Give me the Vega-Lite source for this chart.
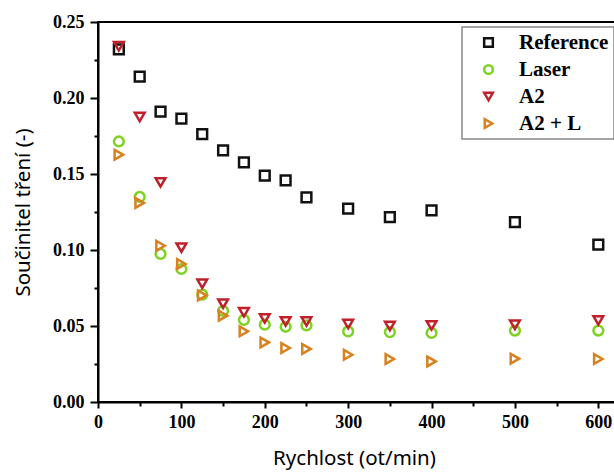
{
  "$schema": "https://vega.github.io/schema/vega-lite/v6.json",
  "width": 517,
  "height": 380,
  "autosize": {"type": "none"},
  "padding": {"left": 98, "top": 22, "right": 0, "bottom": 74},
  "background": "white",
  "config": {
    "view": {"stroke": "black", "strokeWidth": 2},
    "axis": {
      "grid": false,
      "domainColor": "black",
      "domainWidth": 2,
      "tickColor": "black",
      "tickWidth": 2,
      "labelFont": "Liberation Serif",
      "labelFontWeight": "bold",
      "labelFontSize": 18,
      "labelColor": "black",
      "labelFlush": false,
      "titleFont": "Noto Sans",
      "titleFontWeight": "normal",
      "titleFontSize": 20.5,
      "titleColor": "black"
    },
    "legend": {
      "orient": "none",
      "legendX": 364,
      "legendY": 5,
      "strokeColor": "#888888",
      "strokeWidth": 1.5,
      "fillColor": "white",
      "padding": 5,
      "rowPadding": 5,
      "symbolOffset": 11,
      "labelOffset": 20,
      "labelFont": "Liberation Serif",
      "labelFontWeight": "bold",
      "labelFontSize": 21,
      "labelColor": "black",
      "symbolSize": 75,
      "symbolStrokeWidth": 2.5,
      "symbolFillColor": "transparent",
      "labelLimit": 200
    }
  },
  "data": {
    "values": [
      {"rpm": 25, "series": "Reference", "cof": 0.232},
      {"rpm": 50, "series": "Reference", "cof": 0.214},
      {"rpm": 75, "series": "Reference", "cof": 0.191},
      {"rpm": 100, "series": "Reference", "cof": 0.1864},
      {"rpm": 125, "series": "Reference", "cof": 0.1763},
      {"rpm": 150, "series": "Reference", "cof": 0.1655},
      {"rpm": 175, "series": "Reference", "cof": 0.1576},
      {"rpm": 200, "series": "Reference", "cof": 0.149},
      {"rpm": 225, "series": "Reference", "cof": 0.1458},
      {"rpm": 250, "series": "Reference", "cof": 0.1346},
      {"rpm": 300, "series": "Reference", "cof": 0.1272},
      {"rpm": 350, "series": "Reference", "cof": 0.1217},
      {"rpm": 400, "series": "Reference", "cof": 0.126},
      {"rpm": 500, "series": "Reference", "cof": 0.1184},
      {"rpm": 600, "series": "Reference", "cof": 0.1035},
      {"rpm": 25, "series": "Laser", "cof": 0.1714},
      {"rpm": 50, "series": "Laser", "cof": 0.1349},
      {"rpm": 75, "series": "Laser", "cof": 0.0974},
      {"rpm": 100, "series": "Laser", "cof": 0.0875},
      {"rpm": 125, "series": "Laser", "cof": 0.0706},
      {"rpm": 150, "series": "Laser", "cof": 0.06},
      {"rpm": 175, "series": "Laser", "cof": 0.054},
      {"rpm": 200, "series": "Laser", "cof": 0.0509},
      {"rpm": 225, "series": "Laser", "cof": 0.0495},
      {"rpm": 250, "series": "Laser", "cof": 0.0504},
      {"rpm": 300, "series": "Laser", "cof": 0.0465},
      {"rpm": 350, "series": "Laser", "cof": 0.046},
      {"rpm": 400, "series": "Laser", "cof": 0.0454},
      {"rpm": 500, "series": "Laser", "cof": 0.047},
      {"rpm": 600, "series": "Laser", "cof": 0.047},
      {"rpm": 25, "series": "A2", "cof": 0.234},
      {"rpm": 50, "series": "A2", "cof": 0.1875},
      {"rpm": 75, "series": "A2", "cof": 0.1445},
      {"rpm": 100, "series": "A2", "cof": 0.1015},
      {"rpm": 125, "series": "A2", "cof": 0.0778},
      {"rpm": 150, "series": "A2", "cof": 0.0647},
      {"rpm": 175, "series": "A2", "cof": 0.059},
      {"rpm": 200, "series": "A2", "cof": 0.055},
      {"rpm": 225, "series": "A2", "cof": 0.053},
      {"rpm": 250, "series": "A2", "cof": 0.053},
      {"rpm": 300, "series": "A2", "cof": 0.0513},
      {"rpm": 350, "series": "A2", "cof": 0.05},
      {"rpm": 400, "series": "A2", "cof": 0.0504},
      {"rpm": 500, "series": "A2", "cof": 0.0508},
      {"rpm": 600, "series": "A2", "cof": 0.0537},
      {"rpm": 25, "series": "A2 + L", "cof": 0.1627},
      {"rpm": 50, "series": "A2 + L", "cof": 0.131},
      {"rpm": 75, "series": "A2 + L", "cof": 0.1028},
      {"rpm": 100, "series": "A2 + L", "cof": 0.0908},
      {"rpm": 125, "series": "A2 + L", "cof": 0.0701},
      {"rpm": 150, "series": "A2 + L", "cof": 0.0568},
      {"rpm": 175, "series": "A2 + L", "cof": 0.0465},
      {"rpm": 200, "series": "A2 + L", "cof": 0.0392},
      {"rpm": 225, "series": "A2 + L", "cof": 0.0355},
      {"rpm": 250, "series": "A2 + L", "cof": 0.0349},
      {"rpm": 300, "series": "A2 + L", "cof": 0.0311},
      {"rpm": 350, "series": "A2 + L", "cof": 0.0283},
      {"rpm": 400, "series": "A2 + L", "cof": 0.0267},
      {"rpm": 500, "series": "A2 + L", "cof": 0.0285},
      {"rpm": 600, "series": "A2 + L", "cof": 0.0283}
    ]
  },
  "mark": {"type": "point", "filled": false, "strokeWidth": 2.5, "size": 95, "opacity": 1},
  "encoding": {
    "x": {
      "field": "rpm",
      "type": "quantitative",
      "scale": {"domain": [0, 620], "nice": false, "zero": false},
      "axis": {
        "title": "Rychlost (ot/min)",
        "values": [0, 50, 100, 150, 200, 250, 300, 350, 400, 450, 500, 550, 600],
        "labelExpr": "datum.value % 100 === 0 ? format(datum.value, 'd') : ''",
        "tickSize": {"condition": {"test": "datum.value % 100 === 0", "value": 6}, "value": 4},
        "labelPadding": 5,
        "titleX": 256,
        "titleY": 56,
        "titleBaseline": "middle",
        "titleAlign": "center"
      }
    },
    "y": {
      "field": "cof",
      "type": "quantitative",
      "scale": {"domain": [0, 0.25], "nice": false, "zero": false},
      "axis": {
        "title": "Součinitel tření (-)",
        "values": [0, 0.025, 0.05, 0.075, 0.1, 0.125, 0.15, 0.175, 0.2, 0.225, 0.25],
        "labelExpr": "round(datum.value * 1000) % 50 === 0 ? format(datum.value, '.2f') : ''",
        "tickSize": {"condition": {"test": "round(datum.value * 1000) % 50 === 0", "value": 8}, "value": 4},
        "labelPadding": 6,
        "titleX": -75,
        "titleY": 190,
        "titleAngle": 270,
        "titleBaseline": "middle",
        "titleAlign": "center"
      }
    },
    "color": {
      "field": "series",
      "type": "nominal",
      "scale": {
        "domain": ["Reference", "Laser", "A2", "A2 + L"],
        "range": ["#111111", "#7ed321", "#c0202a", "#d9801f"]
      },
      "legend": {"title": null}
    },
    "shape": {
      "field": "series",
      "type": "nominal",
      "scale": {
        "domain": ["Reference", "Laser", "A2", "A2 + L"],
        "range": ["square", "circle", "triangle-down", "triangle-right"]
      },
      "legend": {"title": null}
    }
  }
}
